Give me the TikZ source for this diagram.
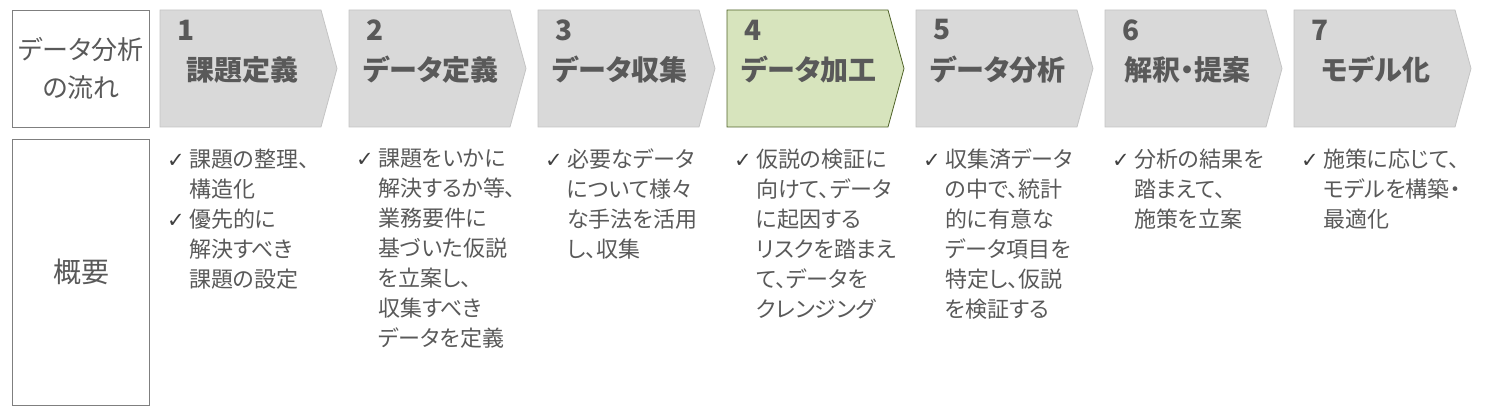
\documentclass[tikz,border=0pt]{standalone}
\usepackage{fontspec}
\setmainfont{Noto Sans CJK JP}[RawFeature=+palt]
\newfontfamily\checkfont{DejaVu Sans}
\definecolor{txtgray}{HTML}{595959}
\definecolor{chkgray}{HTML}{404040}
\definecolor{boxline}{HTML}{7F7F7F}
\definecolor{chevfill}{HTML}{D9D9D9}
\definecolor{chevline}{HTML}{C4C4C4}
\definecolor{curfill}{HTML}{D7E4BD}
\definecolor{curline}{HTML}{4F6228}
\newcommand{\chk}{\makebox[22pt][l]{\color{chkgray}\checkfont\fontsize{21}{21}\selectfont ✓}}
\newcommand{\ind}{\hspace*{22pt}}
\begin{document}
\begin{tikzpicture}[x=1pt,y=-1pt,
    stepbox/.style={draw=chevline, fill=chevfill, line width=0.8pt},
    stepcur/.style={draw=curline, fill=curfill, line width=0.8pt},
    stepnum/.style={anchor=west, inner sep=0pt, text=txtgray, font=\bfseries\fontsize{28}{28}\selectfont},
    steptitle/.style={inner sep=0pt, text=txtgray, font=\bfseries\fontsize{28}{28}\selectfont},
    steptext/.style={anchor=north west, inner sep=0pt, align=left, text=txtgray, font=\fontsize{22}{30}\selectfont},
    headbox/.style={draw=boxline, line width=0.8pt, inner sep=0pt, align=center, text=txtgray, font=\fontsize{26}{38}\selectfont}]
    \useasboundingbox (0,0) rectangle (1488,406);
    % left column
    \node (flow) [headbox, minimum width=137pt, minimum height=117pt] at (81,68.5) {データ分析\\の流れ};
    \node (outline) [headbox, minimum width=137pt, minimum height=266pt, font=\fontsize{28}{28}\selectfont] at (81,272) {概要};
    % chevrons
    \foreach \i/\num/\title/\sty in {0/1/課題定義/stepbox, 1/2/データ定義/stepbox, 2/3/データ収集/stepbox,
        3/4/データ加工/stepcur, 4/5/データ分析/stepbox, 5/6/解釈・提案/stepbox, 6/7/モデル化/stepbox} {
        \pgfmathsetmacro\xs{160+189*\i}
        \draw[\sty] (\xs,10) -- ++(161,0) -- ++(16,58.5) -- ++(-16,58.5) -- ++(-161,0) -- cycle;
        \node (num\num) [stepnum] at (\xs+17,30) {\num};
        \node (title\num) [steptitle] at (\xs+82,70) {\title};
    }
    % outlines
    \node (text1) [steptext] at (167,149) {\chk 課題の整理、\\\ind 構造化\\\chk 優先的に\\\ind 解決すべき\\\ind 課題の設定};
    \node (text2) [steptext] at (356,149) {\chk 課題をいかに\\\ind 解決するか等、\\\ind 業務要件に\\\ind 基づいた仮説\\\ind を立案し、\\\ind 収集すべき\\\ind データを定義};
    \node (text3) [steptext] at (545,149) {\chk 必要なデータ\\\ind について様々\\\ind な手法を活用\\\ind し、収集};
    \node (text4) [steptext] at (734,149) {\chk 仮説の検証に\\\ind 向けて、データ\\\ind に起因する\\\ind リスクを踏まえ\\\ind て、データを\\\ind クレンジング};
    \node (text5) [steptext] at (923,149) {\chk 収集済データ\\\ind の中で、統計\\\ind 的に有意な\\\ind データ項目を\\\ind 特定し、仮説\\\ind を検証する};
    \node (text6) [steptext] at (1112,149) {\chk 分析の結果を\\\ind 踏まえて、\\\ind 施策を立案};
    \node (text7) [steptext] at (1301,149) {\chk 施策に応じて、\\\ind モデルを構築・\\\ind 最適化};
\end{tikzpicture}
\end{document}
